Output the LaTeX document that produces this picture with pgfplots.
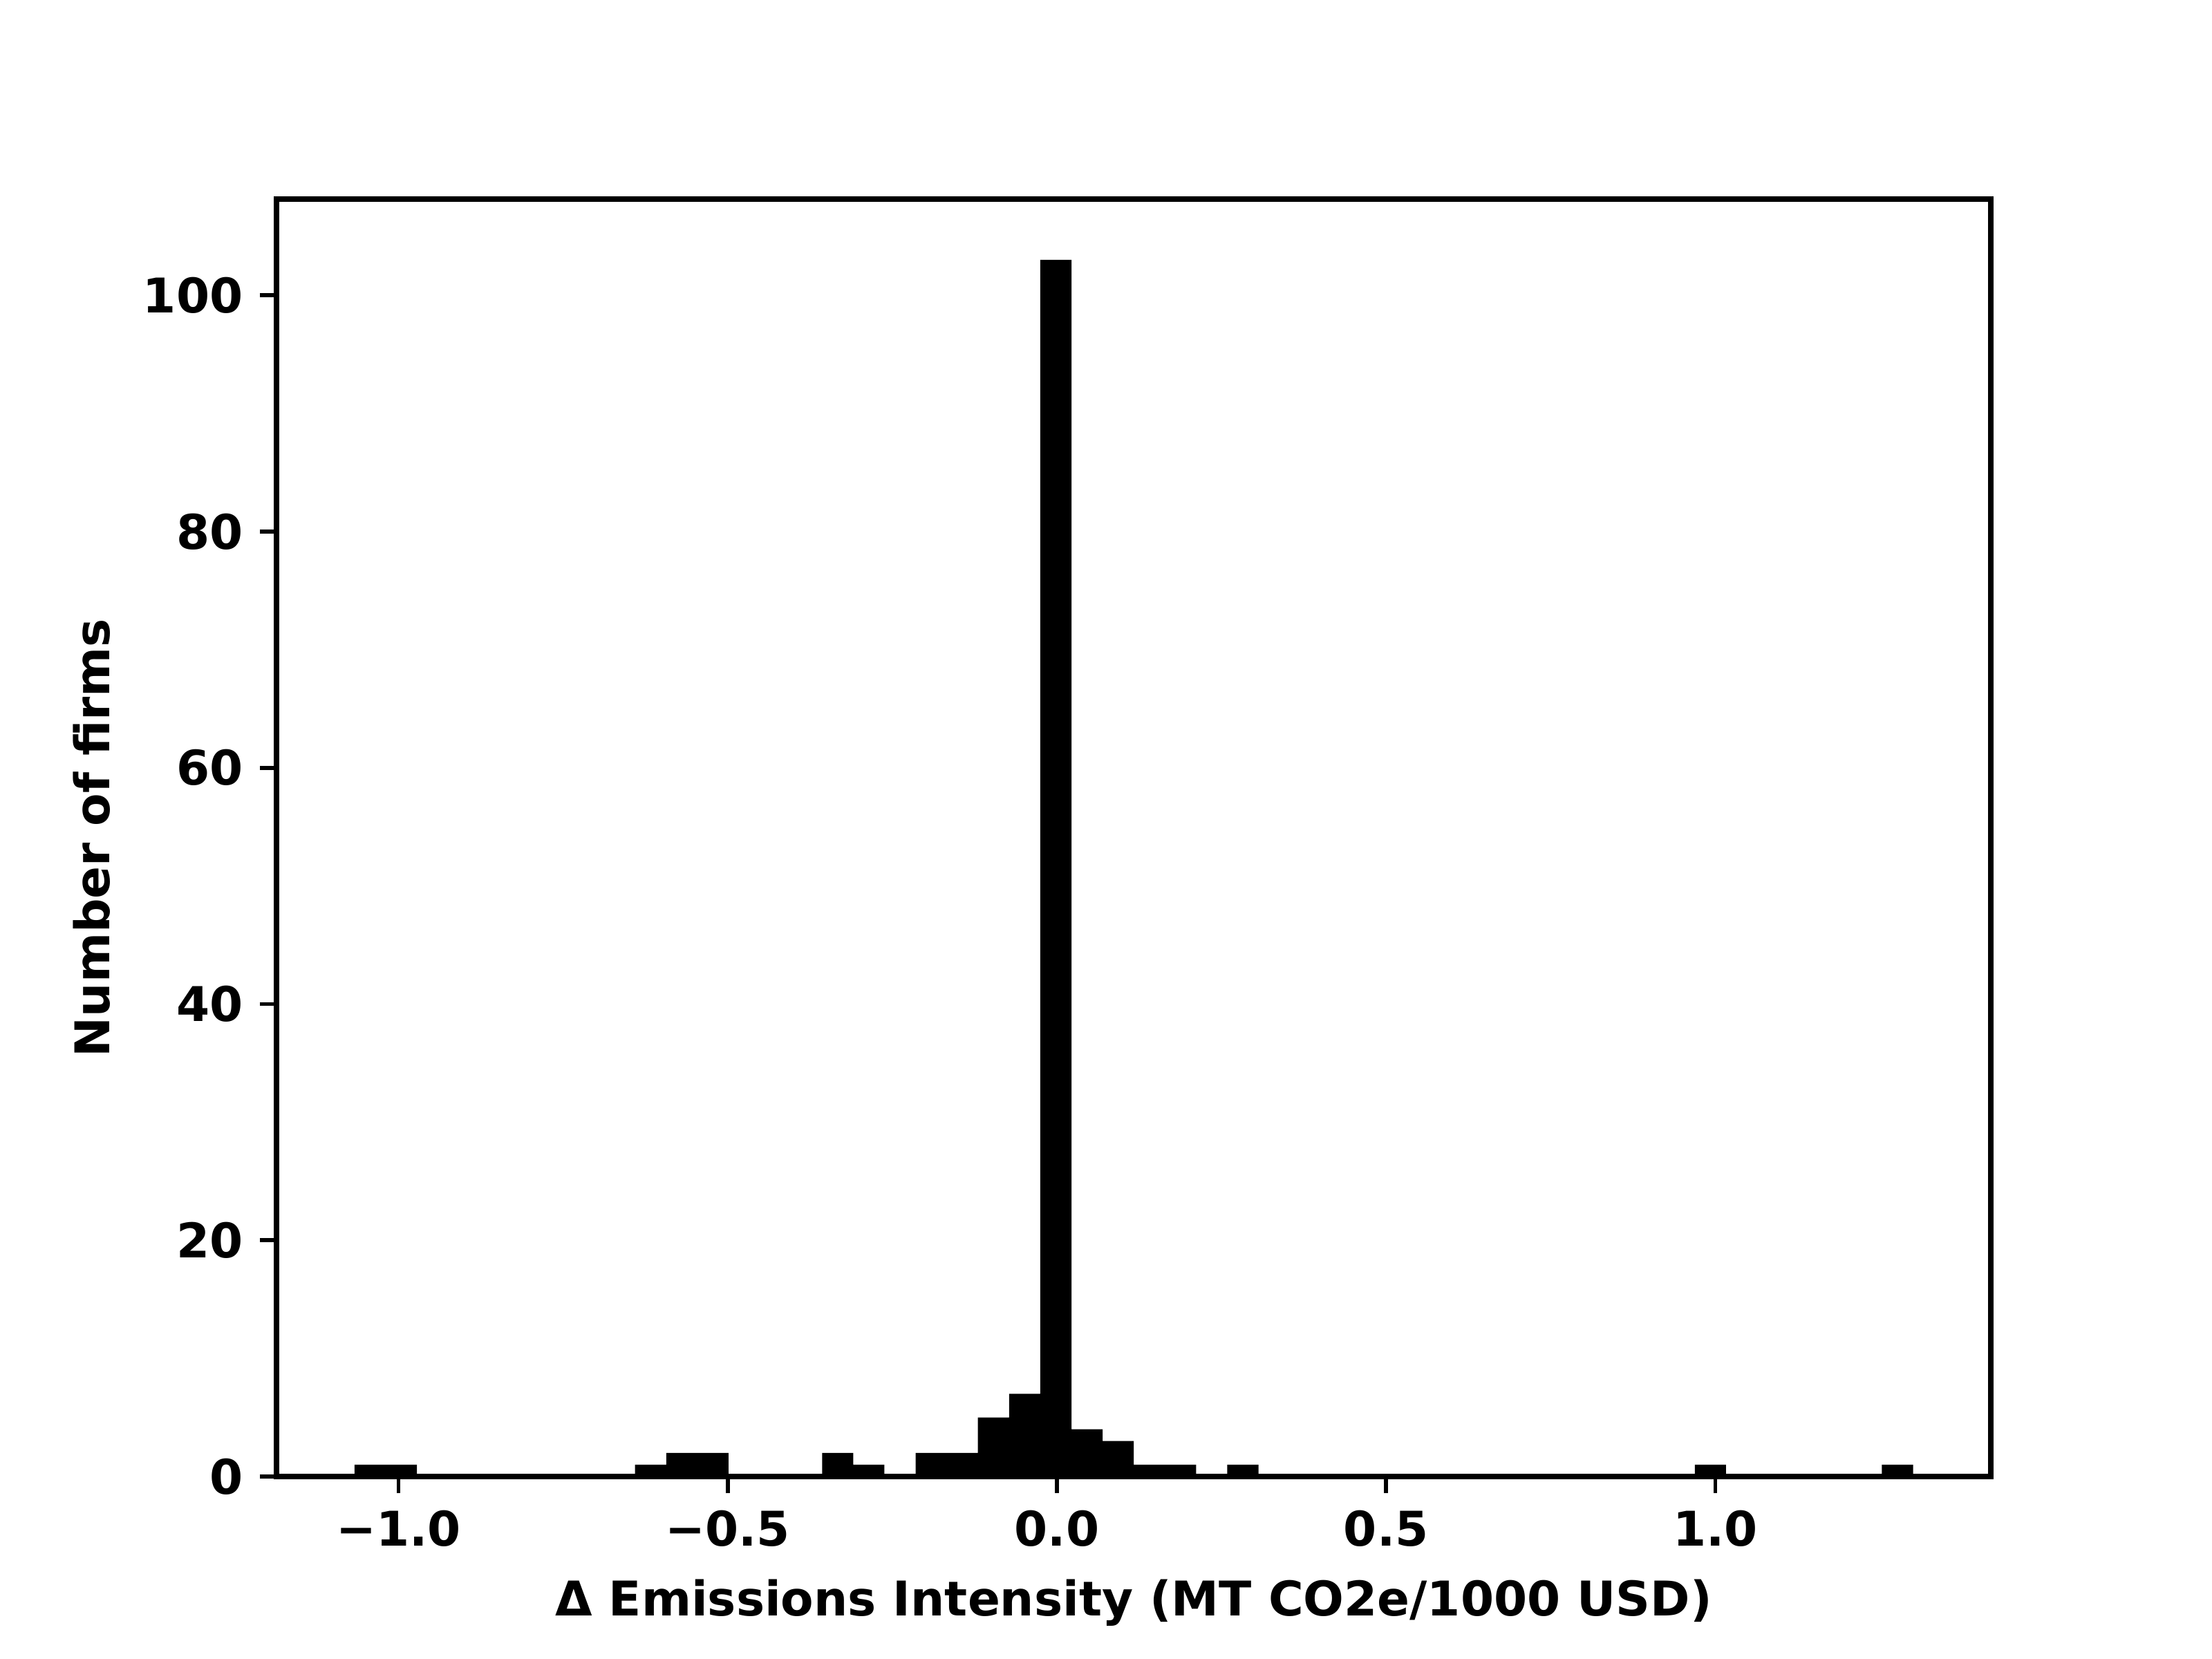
\documentclass[border=0pt]{standalone}
\usepackage{fontspec}
\setmainfont{DejaVu Sans}
\usepackage{pgfplots}
\pgfplotsset{compat=1.18}

\begin{document}
\begin{tikzpicture}
\path[use as bounding box] (0,0) rectangle (6.4in,4.8in);
\begin{axis}[
    at={(0.8in,0.528in)}, anchor=south west,
    width=4.96in, height=3.696in, scale only axis,
    xmin=-1.1855, xmax=1.4186,
    ymin=0, ymax=108.15,
    axis line style={line width=1.2pt},
    tick align=outside, major tick length=3.5pt,
    tick style={line width=0.8pt, black},
    xtick={-1,-0.5,0,0.5,1},
    xticklabels={−1.0,−0.5,0.0,0.5,1.0},
    ytick={0,20,40,60,80,100},
    yticklabels={0,20,40,60,80,100},
    x tick label style={font=\fontsize{10}{12}\selectfont\bfseries},
    y tick label style={font=\fontsize{10}{12}\selectfont\bfseries},
    xtick pos=bottom, ytick pos=left,
    xlabel={Δ Emissions Intensity (MT CO2e/1000 USD)},
    ylabel={Number of firms},
    label style={font=\fontsize{10}{12}\selectfont\bfseries},
]
% histogram, 50 bins: left edge, count
\addplot[ybar interval, fill=black, draw=none] coordinates {
(-1.0670,1) (-1.01965,1) (-0.9723,0) (-0.92495,0) (-0.8776,0)
(-0.83025,0) (-0.7829,0) (-0.73555,0) (-0.6882,0) (-0.64085,1)
(-0.5935,2) (-0.54615,2) (-0.4988,0) (-0.45145,0) (-0.4041,0)
(-0.35675,2) (-0.3094,1) (-0.26205,0) (-0.2147,2) (-0.16735,2)
(-0.12,5) (-0.07265,7) (-0.0253,103) (0.02205,4) (0.0694,3)
(0.11675,1) (0.1641,1) (0.21145,0) (0.2588,1) (0.30615,0)
(0.3535,0) (0.40085,0) (0.4482,0) (0.49555,0) (0.5429,0)
(0.59025,0) (0.6376,0) (0.68495,0) (0.7323,0) (0.77965,0)
(0.827,0) (0.87435,0) (0.9217,0) (0.96905,1) (1.0164,0)
(1.06375,0) (1.1111,0) (1.15845,0) (1.2058,0) (1.25315,1)
(1.3005,0)
};
\end{axis}
\end{tikzpicture}
\end{document}
